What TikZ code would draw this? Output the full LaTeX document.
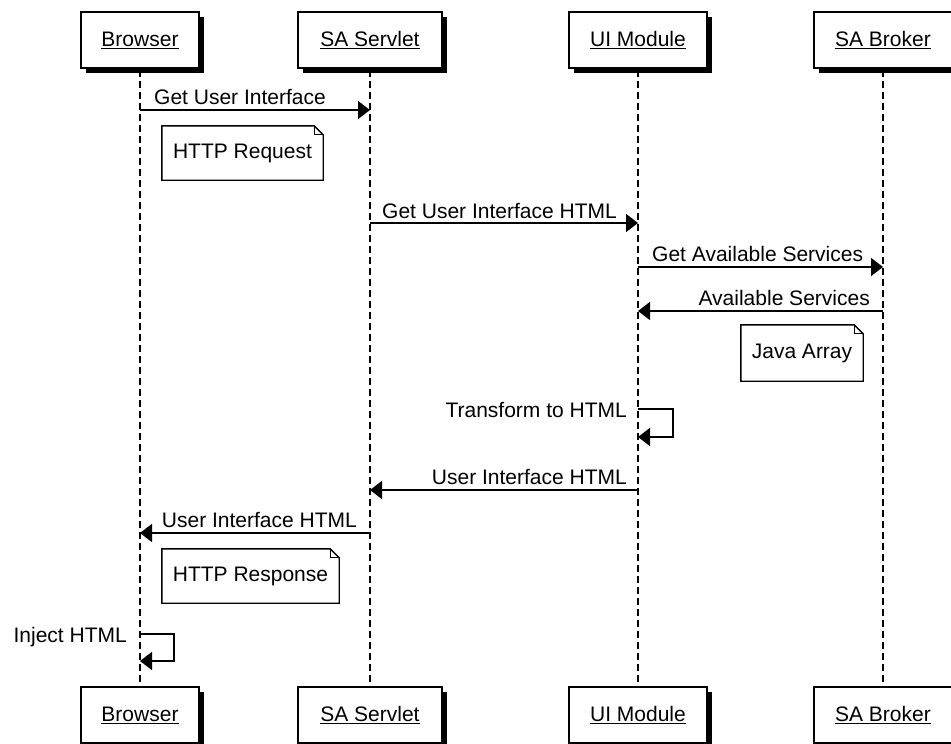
\documentclass[tikz,border=0pt]{standalone}
\usepackage{fontspec}
\setmainfont{Liberation Sans}
\usetikzlibrary{arrows.meta,shadows,calc}

\tikzset{
  actor/.style={draw, line width=1.8pt, fill=white, minimum height=56pt,
    inner xsep=0pt, font=\fontsize{21}{25}\selectfont,
    drop shadow={shadow xshift=5pt, shadow yshift=-5pt, fill=black, opacity=1}},
  lifeline/.style={line width=1.3pt, dash pattern=on 7pt off 4pt},
  msgline/.style={line width=1.6pt, -{Triangle[length=12pt,width=18pt]}},
  msglabel/.style={inner sep=0pt, font=\fontsize{21}{25}\selectfont},
  notebox/.style={inner sep=0pt, font=\fontsize{21}{25}\selectfont},
  notedraw/.style={line width=1.4pt, fill=white},
}

\newcommand{\noteframe}[1]{%
  \draw[notedraw] (#1.north west) -- ([xshift=-9pt]#1.north east)
    -- ([yshift=-9pt]#1.north east) -- (#1.south east) -- (#1.south west) -- cycle;
  \draw[line width=1.2pt] ([xshift=-9pt]#1.north east) -- ([xshift=-9pt,yshift=-9pt]#1.north east)
    -- ([yshift=-9pt]#1.north east);
}

\begin{document}
\begin{tikzpicture}[x=1pt,y=-1pt]
\useasboundingbox (0,0) rectangle (951,744);

% participants, top row
\node[actor, minimum width=118pt] (bt) at (140,40) {\underline{Browser}};
\node[actor, minimum width=144pt] (st) at (370,40) {\underline{SA Servlet}};
\node[actor, minimum width=138pt] (ut) at (638,40) {\underline{UI Module}};
\node[actor, minimum width=138pt] (at) at (883,40) {\underline{SA Broker}};

% participants, bottom row
\node[actor, minimum width=118pt] (bb) at (140,715) {\underline{Browser}};
\node[actor, minimum width=144pt] (sb) at (370,715) {\underline{SA Servlet}};
\node[actor, minimum width=138pt] (ub) at (638,715) {\underline{UI Module}};
\node[actor, minimum width=138pt] (ab) at (883,715) {\underline{SA Broker}};

% lifelines
\draw[lifeline] ([yshift=-1pt]bt.south) -- (bb.north);
\draw[lifeline] ([yshift=-1pt]st.south) -- (sb.north);
\draw[lifeline] ([yshift=-1pt]ut.south) -- (ub.north);
\draw[lifeline] ([yshift=-1pt]at.south) -- (ab.north);

% message end points on the lifelines
\coordinate (m1a) at (bt |- 0,110);  \coordinate (m1b) at (st |- 0,110);
\coordinate (m2a) at (st |- 0,223);  \coordinate (m2b) at (ut |- 0,223);
\coordinate (m3a) at (ut |- 0,267);  \coordinate (m3b) at (at |- 0,267);
\coordinate (m4a) at (at |- 0,311);  \coordinate (m4b) at (ut |- 0,311);
\coordinate (s1a) at (ut |- 0,409);  \coordinate (s1b) at (ut |- 0,437);
\coordinate (m6a) at (ut |- 0,490);  \coordinate (m6b) at (st |- 0,490);
\coordinate (m7a) at (st |- 0,533);  \coordinate (m7b) at (bt |- 0,533);
\coordinate (s2a) at (bt |- 0,634);  \coordinate (s2b) at (bt |- 0,661);

% messages
\draw[msgline] (m1a) -- (m1b);
\node[msglabel, anchor=base west] (l1) at ($(m1a)+(14,-6)$) {Get User Interface};

\draw[msgline] (m2a) -- (m2b);
\node[msglabel, anchor=base west] (l2) at ($(m2a)+(12,-5)$) {Get User Interface HTML};

\draw[msgline] (m3a) -- (m3b);
\node[msglabel, anchor=base west] (l3) at ($(m3a)+(14,-6)$) {Get Available Services};

\draw[msgline] (m4a) -- (m4b);
\node[msglabel, anchor=base east] (l4) at ($(m4a)+(-13,-6)$) {Available Services};

\draw[msgline] (s1a) -- ++(35,0) |- (s1b);
\node[msglabel, anchor=base east] (l5) at ($(s1a)+(-11,8)$) {Transform to HTML};

\draw[msgline] (m6a) -- (m6b);
\node[msglabel, anchor=base east] (l6) at ($(m6a)+(-11,-6)$) {User Interface HTML};

\draw[msgline] (m7a) -- (m7b);
\node[msglabel, anchor=base east] (l7) at ($(m7a)+(-13,-6)$) {User Interface HTML};

\draw[msgline] (s2a) -- ++(34,0) |- (s2b);
\node[msglabel, anchor=base east] (l8) at ($(s2a)+(-13,8)$) {Inject HTML};

% notes
\node[notebox, minimum width=161pt, minimum height=54pt] (n1) at (242.5,153) {};
\noteframe{n1}
\node[notebox] at (n1) {HTTP Request};

\node[notebox, minimum width=122pt, minimum height=56pt] (n2) at (802,353) {};
\noteframe{n2}
\node[notebox] at (n2) {Java Array};

\node[notebox, minimum width=177pt, minimum height=54pt] (n3) at (250.5,576) {};
\noteframe{n3}
\node[notebox] at (n3) {HTTP Response};
\end{tikzpicture}
\end{document}
